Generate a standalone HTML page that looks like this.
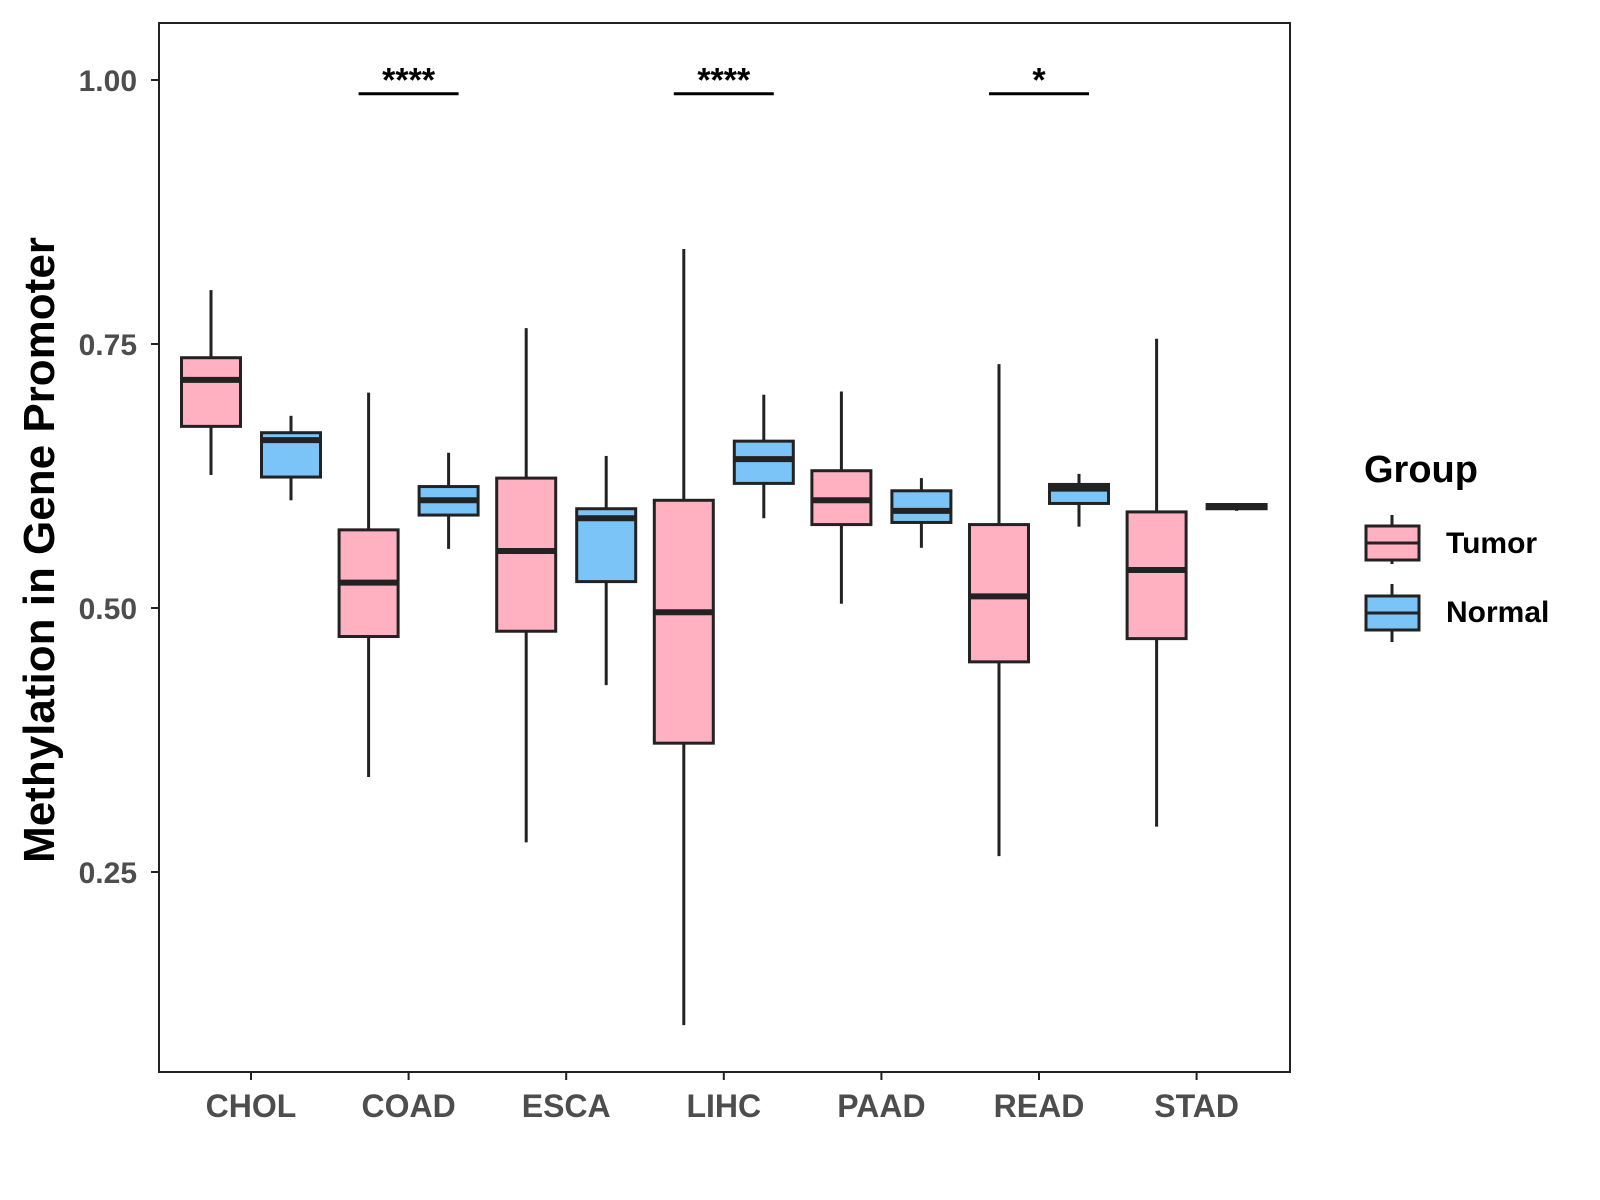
<!DOCTYPE html>
<html><head><meta charset="utf-8"><style>
html,body{margin:0;padding:0;background:#fff;}
svg{display:block;font-family:"Liberation Sans",Arial,sans-serif;}
</style></head><body>
<svg id="chart" width="1600" height="1200" viewBox="0 0 1600 1200" xmlns="http://www.w3.org/2000/svg">
<rect x="0" y="0" width="1600" height="1200" fill="#fff"/>
<g id="plot"></g>
<rect x="159" y="23" width="1131" height="1049" fill="none" stroke="#222" stroke-width="2"/>
<text transform="translate(54,550) rotate(-90)" text-anchor="middle" font-size="44" font-weight="bold" fill="#000">Methylation in Gene Promoter</text>
<g>
<text x="1364" y="482" font-size="38" font-weight="bold" fill="#000">Group</text>
<g>
<line x1="1392" y1="515" x2="1392" y2="564" stroke="#222" stroke-width="3"/>
<rect x="1366" y="526" width="53" height="34" fill="#FFB0C1" stroke="#222" stroke-width="3"/>
<line x1="1366" y1="543" x2="1419" y2="543" stroke="#222" stroke-width="3"/>
<text x="1446" y="553" font-size="30" font-weight="bold" fill="#000">Tumor</text>
</g>
<g>
<line x1="1392" y1="584" x2="1392" y2="642" stroke="#222" stroke-width="3"/>
<rect x="1366" y="596" width="53" height="34" fill="#7AC4F8" stroke="#222" stroke-width="3"/>
<line x1="1366" y1="613" x2="1419" y2="613" stroke="#222" stroke-width="3"/>
<text x="1446" y="622" font-size="30" font-weight="bold" fill="#000">Normal</text>
</g>
</g>
</svg>
<script>
const categories = ["CHOL","COAD","ESCA","LIHC","PAAD","READ","STAD"];
// [lowWhisker, q1, median, q3, highWhisker]
const tumorStats = [
 [0.626,0.672,0.716,0.737,0.801],
 [0.340,0.473,0.524,0.574,0.704],
 [0.278,0.478,0.554,0.623,0.765],
 [0.105,0.372,0.496,0.602,0.840],
 [0.504,0.579,0.602,0.630,0.705],
 [0.265,0.449,0.511,0.579,0.731],
 [0.293,0.471,0.536,0.591,0.755]
];
const normalStats = [
 [0.602,0.624,0.659,0.666,0.682],
 [0.556,0.588,0.602,0.615,0.647],
 [0.427,0.525,0.585,0.594,0.644],
 [0.585,0.618,0.641,0.658,0.702],
 [0.557,0.581,0.592,0.611,0.623],
 [0.577,0.599,0.613,0.617,0.627],
 [0.592,0.594,0.596,0.598,0.599]
];
const yTicks = [0.25,0.50,0.75,1.00];
const yTickLabels = ["0.25","0.50","0.75","1.00"];
const sigCategories = ["COAD","LIHC","READ"];
const sigLabels = ["****","****","*"];
const sigLevel = 0.987;

const NS="http://www.w3.org/2000/svg";
const g=document.getElementById('plot');
function y(v){return 80+(1-v)*1056;}
function x(i){return 251+i*157.6;}
function el(tag,attrs,parent){const e=document.createElementNS(NS,tag);for(const k in attrs)e.setAttribute(k,attrs[k]);(parent||g).appendChild(e);return e;}

yTicks.forEach((t,i)=>{
  const tk=el('line',{x1:151,x2:159,y1:y(t),y2:y(t),stroke:'#222','stroke-width':2});
  
  
  const lb=el('text',{x:137,y:y(t)+11,'text-anchor':'end','font-size':30,'font-weight':'bold',fill:'#4d4d4d'});
  
  
  lb.textContent=yTickLabels[i];
});
categories.forEach((c,i)=>{
  const tk=el('line',{x1:x(i),x2:x(i),y1:1072,y2:1080,stroke:'#222','stroke-width':2});
  
  
  const lb=el('text',{x:x(i),y:1117,'text-anchor':'middle','font-size':32,'font-weight':'bold',fill:'#4d4d4d'});
  
  
  lb.textContent=c;
});
function box(cx,s,fill,name){
  const grp=el('g',{});
  
  
  const w=59;
  el('line',{x1:cx,x2:cx,y1:y(s[4]),y2:y(s[3]),stroke:'#222','stroke-width':3},grp);
  el('line',{x1:cx,x2:cx,y1:y(s[1]),y2:y(s[0]),stroke:'#222','stroke-width':3},grp);
  el('rect',{x:cx-w/2,y:y(s[3]),width:w,height:Math.max(y(s[1])-y(s[3]),1),fill:fill,stroke:'#222','stroke-width':3},grp);
  el('line',{x1:cx-w/2,x2:cx+w/2,y1:y(s[2]),y2:y(s[2]),stroke:'#222','stroke-width':6},grp);
}
categories.forEach((c,i)=>{
  box(x(i)-40,tumorStats[i],'#FFB0C1','box-tumor-'+c.toLowerCase());
  box(x(i)+40,normalStats[i],'#7AC4F8','box-normal-'+c.toLowerCase());
});
sigCategories.forEach((c,k)=>{
  const i=categories.indexOf(c);
  const ln=el('line',{x1:x(i)-50,x2:x(i)+50,y1:y(sigLevel),y2:y(sigLevel),stroke:'#000','stroke-width':3});
  
  
  const t=el('text',{x:x(i),y:y(sigLevel)-2,'text-anchor':'middle','font-size':34,'font-weight':'bold',fill:'#000'});
  
  
  t.textContent=sigLabels[k];
});
</script>
</body></html>
